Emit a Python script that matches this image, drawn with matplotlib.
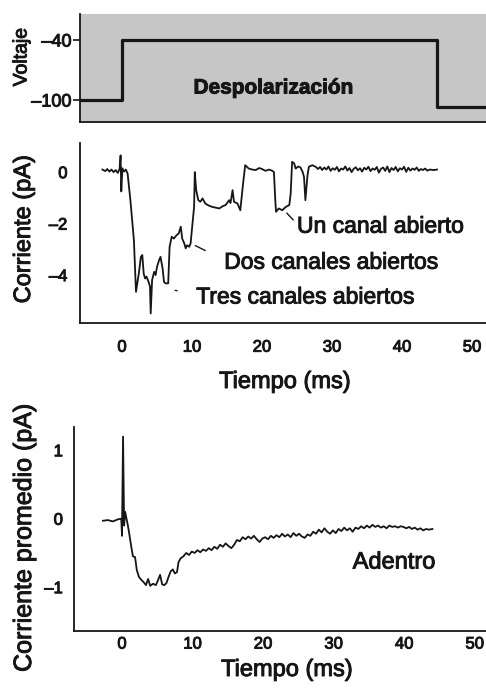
import numpy as np
import matplotlib.pyplot as plt
import matplotlib.patheffects as pe
from matplotlib.text import Text

plt.rcParams['font.family'] = ['Liberation Sans', 'DejaVu Sans']
plt.rcParams['axes.unicode_minus'] = False

# pulso de voltaje (mV)
v_t = [-6, 0, 0, 45, 45, 52]
v_mv = [-100, -100, -40, -40, -107, -107]

# registro de un solo canal (pA)
t1 = [-2.8, -2.4, -2.1, -1.8, -1.5, -1.2, -0.9, -0.6, -0.35, -0.2, -0.1, 0.05, 0.3, 0.55, 0.8,
      1.2, 1.7, 2.0, 2.4, 2.7, 2.9, 3.1, 3.3, 3.5, 3.8, 4.0, 4.1, 4.3, 4.6, 4.8, 5.0, 5.3, 5.5,
      5.8, 6.0, 6.2, 6.6, 6.8, 7.1, 7.4, 7.8, 8.1, 8.4, 8.6, 8.9, 9.1, 9.3, 9.6, 9.8, 10.0, 10.3,
      10.4, 10.6, 10.9, 11.2, 11.5, 11.9, 12.4, 12.9, 13.4, 13.9, 14.4, 14.8, 15.3, 15.5, 15.8,
      16.0, 16.5, 16.9, 17.3, 17.6, 18.1, 18.6, 19.1, 19.6, 20.0, 20.5, 21.0, 21.4, 21.7, 21.9,
      22.0, 22.4, 22.9, 23.4, 23.9, 24.1, 24.3, 24.6, 24.8, 25.2, 25.5, 25.8, 26.0, 26.2, 26.5,
      26.7, 27.2, 27.7, 28.0, 28.3, 28.6, 28.9, 29.2, 29.5, 29.8, 30.1, 30.4, 30.7, 31.0, 31.3,
      31.6, 31.9, 32.2, 32.5, 32.8, 33.1, 33.4, 33.7, 34.0, 34.3, 34.6, 34.9, 35.2, 35.5, 35.8,
      36.1, 36.4, 36.7, 37.0, 37.3, 37.6, 37.9, 38.2, 38.5, 38.8, 39.1, 39.4, 39.7, 40.0, 40.3,
      40.6, 40.9, 41.2, 41.5, 41.8, 42.1, 42.4, 42.7, 43.0, 43.3, 43.6, 44.0, 44.5, 45.0]
i1 = [0.1, 0.04, 0.12, 0.02, 0.1, 0.0, 0.08, -0.03, 0.12, 0.65, -0.75, 0.15, 0.02, 0.1, -0.05,
      -1.09, -2.64, -4.65, -3.94, -3.29, -3.22, -3.94, -4.13, -4.06, -4.26, -4.45, -5.49, -4.19,
      -3.87, -4.0, -3.68, -3.42, -3.29, -3.74, -4.26, -4.32, -4.32, -2.9, -2.51, -2.58, -2.45,
      -2.38, -2.12, -2.58, -2.77, -2.96, -2.84, -2.9, -2.77, -2.19, -1.35, 0.0, -0.7, -1.09,
      -1.15, -1.02, -1.22, -1.3, -1.35, -1.38, -1.41, -1.32, -1.28, -1.09, -1.2, -0.7, -1.15,
      -1.22, -1.48, -0.44, 0.27, 0.14, 0.1, 0.08, 0.16, 0.12, 0.05, 0.1, 0.06, 0.01, -1.09,
      -1.54, -1.41, -1.48, -1.35, -1.28, -0.83, 0.4, 0.34, 0.14, 0.22, 0.18, 0.01, -0.18, -1.09,
      -0.12, 0.21, 0.27, 0.2, 0.12, 0.2, 0.08, 0.18, 0.1, 0.22, 0.05, 0.15, 0.09, 0.2, 0.03,
      0.14, 0.1, 0.22, 0.06, 0.16, 0.0, 0.13, 0.19, 0.07, 0.15, 0.02, 0.17, 0.1, 0.21, 0.04,
      0.14, 0.09, 0.2, -0.02, 0.13, 0.18, 0.05, 0.22, 0.0, 0.16, 0.08, 0.2, 0.03, 0.15, 0.1,
      0.21, 0.01, 0.17, 0.06, 0.14, 0.09, 0.18, 0.05, 0.12, 0.08, 0.14, 0.06, 0.1, 0.08, 0.1]

# corriente promedio (pA)
t2 = [-2.7, -2.0, -1.3, -0.6, -0.1, 0.0, 0.15, 0.3, 0.45, 0.6, 0.8, 1.0, 1.3, 1.55, 1.85, 2.1,
      2.4, 2.8, 3.1, 3.4, 3.7, 4.0, 4.4, 4.8, 5.1, 5.4, 5.7, 6.0, 6.3, 6.6, 6.9, 7.2, 7.5, 7.8,
      8.0, 8.3, 8.7, 9.1, 9.5, 9.9, 10.3, 10.7, 11.1, 11.5, 11.9, 12.3, 12.7, 13.1, 13.5, 13.9,
      14.3, 14.7, 15.1, 15.5, 15.9, 16.3, 16.7, 17.1, 17.5, 17.9, 18.3, 18.7, 19.1, 19.5, 19.9,
      20.3, 20.7, 21.1, 21.5, 21.9, 22.3, 22.7, 23.1, 23.5, 23.9, 24.3, 24.7, 25.1, 25.5, 25.9,
      26.3, 26.7, 27.1, 27.5, 27.9, 28.3, 28.7, 29.1, 29.5, 29.9, 30.3, 30.7, 31.1, 31.5, 31.9,
      32.3, 32.7, 33.1, 33.5, 33.9, 34.3, 34.7, 35.1, 35.5, 35.9, 36.3, 36.7, 37.1, 37.5, 37.9,
      38.3, 38.7, 39.1, 39.5, 39.9, 40.3, 40.7, 41.1, 41.5, 41.9, 42.3, 42.7, 43.1, 43.5, 44.0]
i2 = [-0.03, -0.02, -0.04, -0.01, 0.0, -0.25, 1.2, -0.1, 0.1, 0.02, -0.08, -0.2, -0.4, -0.55,
      -0.56, -0.75, -0.85, -0.9, -0.93, -0.97, -0.88, -0.98, -0.95, -0.97, -0.9, -0.82, -0.96,
      -0.97, -0.94, -0.85, -0.77, -0.74, -0.8, -0.78, -0.64, -0.58, -0.55, -0.5, -0.53, -0.48,
      -0.5, -0.46, -0.49, -0.45, -0.47, -0.43, -0.46, -0.41, -0.44, -0.38, -0.41, -0.36, -0.4,
      -0.43, -0.38, -0.31, -0.33, -0.27, -0.3, -0.26, -0.29, -0.25, -0.3, -0.34, -0.29, -0.27,
      -0.3, -0.25, -0.28, -0.24, -0.27, -0.22, -0.26, -0.23, -0.27, -0.21, -0.25, -0.22, -0.26,
      -0.28, -0.23, -0.25, -0.19, -0.22, -0.16, -0.2, -0.14, -0.19, -0.22, -0.17, -0.21, -0.15,
      -0.18, -0.13, -0.17, -0.14, -0.19, -0.13, -0.15, -0.11, -0.14, -0.1, -0.13, -0.09, -0.12,
      -0.1, -0.13, -0.11, -0.14, -0.1, -0.12, -0.11, -0.13, -0.11, -0.12, -0.14, -0.12, -0.15,
      -0.13, -0.16, -0.14, -0.17, -0.15, -0.16, -0.15]

xticks = [0, 10, 20, 30, 40, 50]
v_ticks = [-40, -100]
v_ticklabels = ['–40', '–100']
i1_ticks = [0, -2, -4]
i1_ticklabels = ['0', '–2', '–4']
i2_ticks = [1, 0, -1]
i2_ticklabels = ['1', '0', '–1']

ink = '#161616'
fig = plt.figure(figsize=(4.86, 6.89), dpi=100)

def clean(ax):
    ax.spines['top'].set_visible(False)
    ax.spines['right'].set_visible(False)
    for s in ('left', 'bottom'):
        ax.spines[s].set_linewidth(1.3)
        ax.spines[s].set_color(ink)

# --- voltaje ---
ax0 = fig.add_axes([0.1646, 0.8229, 0.8354, 0.1567])
ax0.set_facecolor('#c6c6c6')
ax0.plot(v_t, v_mv, color=ink, lw=2.3)
ax0.set_xlim(-6, 52)
ax0.set_ylim(-122, -14)
ax0.set_xticks([])
ax0.set_yticks(v_ticks)
ax0.set_yticklabels(v_ticklabels, fontsize=13, color=ink)
ax0.tick_params(axis='y', length=5, width=1.2, pad=1, color=ink)
clean(ax0)
ax0.text(21.7, -88, 'Despolarización', fontsize=15, fontweight='bold', color=ink,
         ha='center', va='center')
ax0.set_ylabel('Voltaje', fontsize=14, color=ink, va='center')
ax0.yaxis.set_label_coords(22 / 486, 1 - 57 / 689, transform=fig.transFigure)

# --- canal unico ---
ax1 = fig.add_axes([0.1646, 0.5312, 0.8354, 0.2612])
ax1.plot(t1, i1, color=ink, lw=1.3)
ax1.set_xlim(-6, 52)
ax1.set_ylim(-5.86, 1.13)
ax1.set_xticks(xticks)
ax1.set_xticklabels([str(x) for x in xticks], fontsize=12, color=ink)
ax1.set_yticks(i1_ticks)
ax1.set_yticklabels(i1_ticklabels, fontsize=12, color=ink)
ax1.tick_params(axis='x', length=0, pad=12)
ax1.tick_params(axis='y', length=0, pad=9)
clean(ax1)
ax1.set_ylabel('Corriente (pA)', fontsize=17, color=ink, va='center')
ax1.yaxis.set_label_coords(24 / 486, 1 - 229 / 689, transform=fig.transFigure)
ax1.set_xlabel('Tiempo (ms)', fontsize=17, color=ink, va='center')
ax1.xaxis.set_label_coords(285 / 486, 1 - 382 / 689, transform=fig.transFigure)

lead = dict(arrowstyle='-', color=ink, lw=1.0, relpos=(0, 0.6))
ax1.annotate('Un canal abierto', xy=(23.4, -1.55), xytext=(25.0, -2.1), fontsize=16.5,
             color=ink, va='center', arrowprops=dict(lead, shrinkA=1, shrinkB=1))
ax1.annotate('Dos canales abiertos', xy=(10.3, -2.83), xytext=(14.6, -3.5), fontsize=16.5,
             color=ink, va='center', arrowprops=dict(lead, shrinkA=13, shrinkB=1))
ax1.annotate('Tres canales abiertos', xy=(7.4, -4.58), xytext=(10.6, -4.85), fontsize=16.5,
             color=ink, va='center', arrowprops=dict(lead, shrinkA=12, shrinkB=1))

# --- promedio ---
ax2 = fig.add_axes([0.1523, 0.0842, 0.8477, 0.2961])
ax2.plot(t2, i2, color=ink, lw=1.3)
ax2.set_xlim(-6.8, 51.6)
ax2.set_ylim(-1.64, 1.34)
ax2.set_xticks(xticks)
ax2.set_xticklabels([str(x) for x in xticks], fontsize=12, color=ink)
ax2.set_yticks(i2_ticks)
ax2.set_yticklabels(i2_ticklabels, fontsize=12, color=ink)
ax2.tick_params(axis='x', length=0, pad=4)
ax2.tick_params(axis='y', length=0, pad=8)
clean(ax2)
ax2.text(32.7, -0.64, 'Adentro', fontsize=17, color=ink, ha='left', va='center')
ax2.set_ylabel('Corriente promedio (pA)', fontsize=18, color=ink, va='center')
ax2.yaxis.set_label_coords(24 / 486, 1 - 538 / 689, transform=fig.transFigure)
ax2.set_xlabel('Tiempo (ms)', fontsize=17, color=ink, va='center')
ax2.xaxis.set_label_coords(287 / 486, 1 - 670 / 689, transform=fig.transFigure)

# la figura impresa tiene letras algo mas gruesas
for txt in fig.findobj(Text):
    txt.set_path_effects([pe.withStroke(linewidth=0.7, foreground=ink)])

fig.savefig('out.png', dpi=100)
